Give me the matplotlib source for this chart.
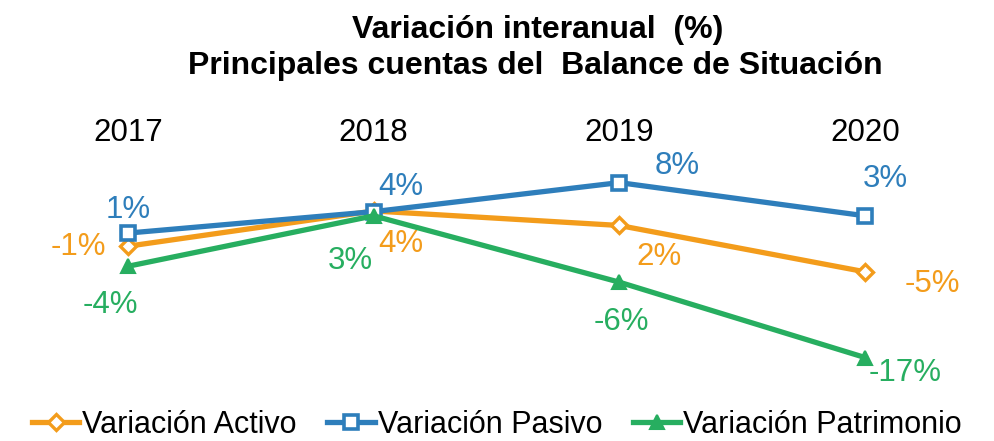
import matplotlib
matplotlib.use("Agg")
import matplotlib.pyplot as plt

plt.rcParams["font.family"] = ["Liberation Sans", "DejaVu Sans"]

# Datos
years = ["2017", "2018", "2019", "2020"]
activo = [-0.9, 4.2, 2.1, -4.6]
pasivo = [1.0, 4.1, 8.3, 3.5]
patrimonio = [-3.8, 3.5, -6.1, -17.0]
activo_labels = ["-1%", "4%", "2%", "-5%"]
pasivo_labels = ["1%", "4%", "8%", "3%"]
patrimonio_labels = ["-4%", "3%", "-6%", "-17%"]

c_act = "#F39C1B"
c_pas = "#2E7EBB"
c_pat = "#27AE60"

fig = plt.figure(figsize=(9.94, 4.41), dpi=100)
ax = fig.add_axes([0.0, 0.1156, 1.0, 0.544])

x = list(range(len(years)))
ax.plot(x, activo, color=c_act, lw=3.8, marker="D", ms=8.5, mfc="white",
        mec=c_act, mew=2.4, label="Variación Activo", zorder=3)
ax.plot(x, pasivo, color=c_pas, lw=3.8, marker="s", ms=10, mfc="white",
        mec=c_pas, mew=2.6, label="Variación Pasivo", zorder=3)
ax.plot(x, patrimonio, color=c_pat, lw=3.8, marker="^", ms=10, mfc=c_pat,
        mec=c_pat, mew=1.5, label="Variación Patrimonio", zorder=4)

# etiquetas de datos (desplazamiento en pixeles)
off_act = [(-50, -1), (27, -33), (40, -32), (67, -12)]
off_pas = [(0, 23), (27, 25), (58, 17), (20, 37)]
off_pat = [(-18, -39), (-23, -45), (2, -40), (40, -15)]
for vals, labs, offs, col in [(activo, activo_labels, off_act, c_act),
                              (pasivo, pasivo_labels, off_pas, c_pas),
                              (patrimonio, patrimonio_labels, off_pat, c_pat)]:
    for i, (v, l, o) in enumerate(zip(vals, labs, offs)):
        ax.annotate(l, (i, v), xytext=o, textcoords="offset pixels",
                    ha="center", va="center", fontsize=22.5, color=col)

ax.set_xlim(-0.521, 3.525)
ax.set_ylim(-21.7, 13.0)
ax.xaxis.tick_top()
ax.set_xticks(x)
ax.set_xticklabels(years, fontsize=22.5)
ax.tick_params(axis="x", length=0, pad=1.5)
ax.set_yticks([])
for s in ax.spines.values():
    s.set_visible(False)

fig.text(0.541, 1 - 38 / 441, "Variación interanual  (%)", ha="center",
         va="baseline", fontsize=23, fontweight="bold")
fig.text(0.539, 1 - 74 / 441, "Principales cuentas del  Balance de Situación",
         ha="center", va="baseline", fontsize=23, fontweight="bold")

fig.legend(loc="center", bbox_to_anchor=(0.5, 0.036), ncol=3, frameon=False,
           fontsize=22, handlelength=1.55, handletextpad=0.1, columnspacing=1.0,
           borderaxespad=0)

fig.savefig("out.png", dpi=100)
